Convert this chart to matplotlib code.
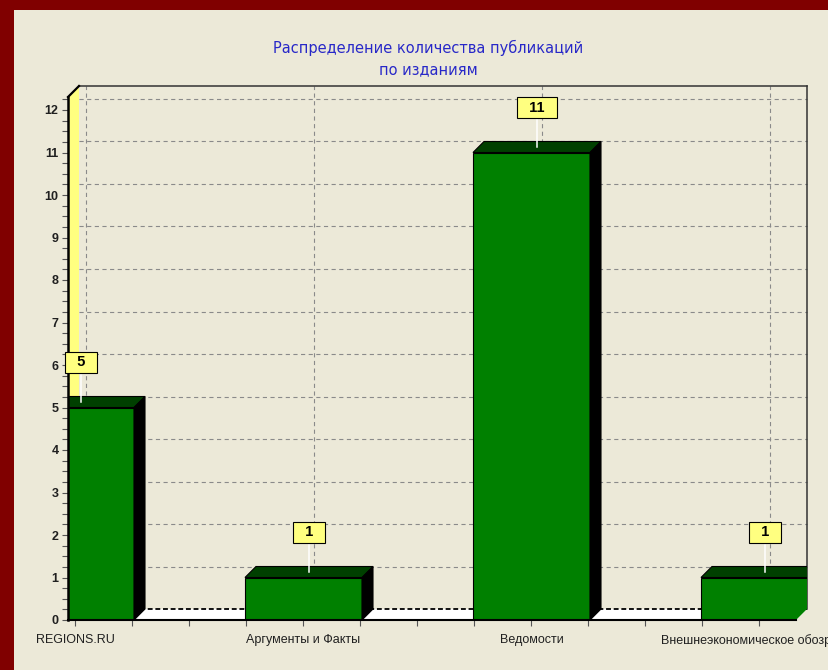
import matplotlib
matplotlib.use('Agg')
import matplotlib.pyplot as plt
from matplotlib.patches import Polygon, Rectangle
from matplotlib.ticker import MultipleLocator, FixedLocator

# ---- data ----
categories = ["REGIONS.RU", "Аргументы и Факты", "Ведомости", "Внешнеэкономическое обозрение"]
values = [5, 1, 11, 1]
y_ticks = list(range(0, 13))
title = "Распределение количества публикаций\nпо изданиям"

plt.rcParams['font.family'] = ['Liberation Sans', 'DejaVu Sans']
plt.rcParams['lines.scale_dashes'] = False

W, H, DPI = 829, 670, 100
fig = plt.figure(figsize=(W / DPI, H / DPI), dpi=DPI)
fig.patch.set_facecolor('#800000')
fig.patches.append(Rectangle((14 / W, 0), 1, 1 - 10 / H, transform=fig.transFigure,
                             facecolor='#ECE9D8', edgecolor='none', zorder=-5))

# layout (pixels)
X_UNIT, Y_UNIT = 228.0, 42.5        # px per category, px per value unit
X0_PX = 75.5                        # pixel of first category
LEFT_PX, RIGHT_PX = 68, 796
BOT_PX, TOP_PX = 620, 97
DEPTH = 11.0

ax = fig.add_axes([LEFT_PX / W, (H - BOT_PX) / H, (RIGHT_PX - LEFT_PX) / W, (BOT_PX - TOP_PX) / H])
ax.set_facecolor('none')
ax.set_zorder(1)
xmin = (LEFT_PX - X0_PX) / X_UNIT
xmax = (RIGHT_PX - X0_PX) / X_UNIT
ymax = (BOT_PX - TOP_PX) / Y_UNIT
ax.set_xlim(xmin, xmax)
ax.set_ylim(0, ymax)
ddx = DEPTH / X_UNIT
ddy = DEPTH / Y_UNIT
bw = 117.0 / X_UNIT

clip_poly = Polygon([(xmin, 0), (xmax, 0), (xmax + ddx, ddy), (xmax + ddx, ymax + ddy),
                     (xmin + ddx, ymax + ddy), (xmin, ymax)], closed=True,
                    transform=ax.transData)


def clip(a):
    a.set_clip_box(None)
    a.set_clip_path(clip_poly)
    return a


def line(xs, ys, **kw):
    ln, = ax.plot(xs, ys, **kw)
    ln.set_clip_on(False)
    return ln


# back wall grid
grid_kw = dict(color='#8a8a8a', lw=0.8, dashes=(3, 2.5), zorder=1)
for v in y_ticks[1:]:
    line([xmin + ddx, xmax + ddx], [v + ddy, v + ddy], **grid_kw)
for i in range(len(categories)):
    line([i + ddx, i + ddx], [ddy, ymax + ddy], **grid_kw)

# back wall border
line([xmin + ddx, xmax + ddx], [ymax + ddy, ymax + ddy], color='#333333', lw=1.1, zorder=2)
line([xmax + ddx, xmax + ddx], [ddy, ymax + ddy], color='#333333', lw=1.1, zorder=2)

# floor
ax.add_patch(Polygon([(xmin, 0), (xmax, 0), (xmax + ddx, ddy), (xmin + ddx, ddy)],
                     closed=True, facecolor='white', edgecolor='none', zorder=2, clip_on=False))
line([xmin + ddx, xmax + ddx], [ddy, ddy], color='black', lw=1.3, dashes=(3.5, 2), zorder=2.5)

# left wall (yellow)
ax.add_patch(Polygon([(xmin, 0), (xmin, ymax), (xmin + ddx, ymax + ddy), (xmin + ddx, ddy)],
                     closed=True, facecolor='#FFFF80', edgecolor='none', zorder=2, clip_on=False))
line([xmin, xmin + ddx], [ymax, ymax + ddy], color='black', lw=1.6, zorder=3)

# bars
for i, v in enumerate(values):
    x0, x1 = i - bw / 2, i + bw / 2
    front = Rectangle((x0, 0), bw, v, facecolor='#008000', edgecolor='black', lw=0.8, zorder=4)
    top = Polygon([(x0, v), (x1, v), (x1 + ddx, v + ddy), (x0 + ddx, v + ddy)], closed=True,
                  facecolor='#004000', edgecolor='black', lw=0.8, zorder=4)
    side = Polygon([(x1, 0), (x1 + ddx, ddy), (x1 + ddx, v + ddy), (x1, v)], closed=True,
                   facecolor='black', edgecolor='black', lw=0.8, zorder=4)
    for p in (front, top, side):
        clip(p)
        ax.add_patch(p)

# spines
for s in ('top', 'right'):
    ax.spines[s].set_visible(False)
ax.spines['left'].set_linewidth(1.8)
ax.spines['left'].set_zorder(5)
ax.spines['bottom'].set_linewidth(1.5)
ax.spines['bottom'].set_zorder(5)

# ticks
ax.yaxis.set_major_locator(FixedLocator(y_ticks))
ax.yaxis.set_minor_locator(MultipleLocator(0.25))
ax.set_yticklabels([str(t) for t in y_ticks], fontsize=9, fontweight='bold', color='#202020')
ax.xaxis.set_major_locator(FixedLocator(range(len(categories))))
ax.xaxis.set_minor_locator(MultipleLocator(0.25))
ax.set_xticklabels(categories, fontsize=9, color='#202020')
ax.tick_params(axis='both', which='both', direction='out', length=4.3, width=0.8, color='#555555')
ax.tick_params(axis='y', which='both', pad=2.5)
ax.tick_params(axis='x', which='both', pad=5.5)

# value labels
for i, v in enumerate(values):
    xc = i + ddx / 2
    yt = v + ddy / 2
    line([xc, xc], [yt, yt + 27 / Y_UNIT], color='white', lw=1.1, zorder=6)
    ax.text(xc, yt + 39.5 / Y_UNIT, '  %d  ' % v, ha='center', va='center', fontsize=10.5,
            fontweight='bold', color='black', zorder=7,
            bbox=dict(boxstyle='square,pad=0.27', facecolor='#FFFF80', edgecolor='black', lw=0.8))

# title
fig.text(428 / W, 1 - 58.5 / H, title, ha='center', va='center', fontsize=10.5,
         color='#2828C8', linespacing=1.5, family=['DejaVu Sans'])

fig.savefig('out.png', dpi=DPI, facecolor=fig.get_facecolor())
